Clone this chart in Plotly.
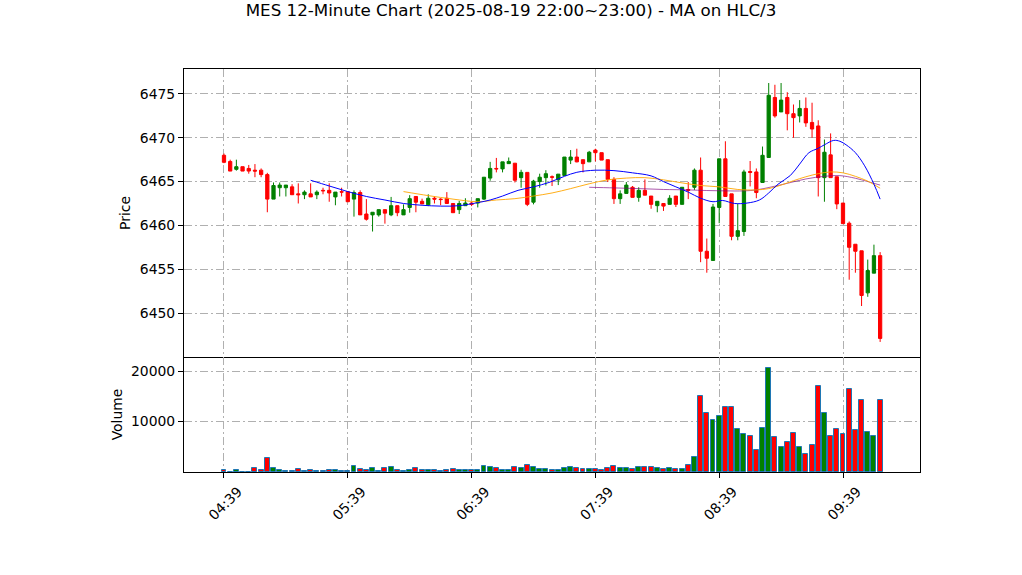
import pandas as pd
import plotly.graph_objects as go

# ---------------- data ----------------
start_time = "2025-08-19 04:39"
bar_minutes = 3

opens = [6468.0, 6467.3, 6466.4, 6466.7, 6466.5, 6466.3, 6466.3, 6465.8, 6463.0, 6464.3,
         6464.3, 6464.4, 6463.6, 6463.5, 6463.6, 6463.5, 6464.0, 6464.0, 6463.25, 6463.85,
         6463.85, 6463.0, 6463.75, 6461.3, 6461.2, 6461.2, 6461.8, 6461.2, 6462.25, 6461.2,
         6462.05, 6463.3, 6462.75, 6462.35, 6463.1, 6463.0, 6463.1, 6462.5, 6461.8, 6462.25,
         6462.55, 6462.55, 6463.0, 6465.4, 6466.5, 6466.45, 6467.05, 6467.1, 6465.45, 6466.05,
         6462.65, 6465.0, 6465.45, 6465.55, 6465.2, 6465.7, 6467.45, 6467.8, 6467.5, 6467.25,
         6468.6, 6468.3, 6467.5, 6465.25, 6463.05, 6463.65, 6464.35, 6463.2, 6464.0, 6463.35,
         6462.25, 6462.5, 6462.4, 6463.35, 6462.4, 6464.1, 6464.35, 6466.3, 6457.05, 6456.0,
         6462.05, 6467.6, 6463.6, 6458.75, 6459.3, 6466.15, 6466.1, 6464.9, 6467.75, 6474.6,
         6472.95, 6474.6, 6472.75, 6472.5, 6473.35, 6471.75, 6471.35, 6465.45, 6468.05, 6465.55,
         6462.55, 6460.25, 6457.85, 6457.1, 6452.3, 6454.55, 6456.55]
highs = [6468.2, 6467.5, 6467.5, 6466.7, 6466.9, 6467.0, 6466.5, 6466.0, 6464.9, 6464.9,
         6464.6, 6464.7, 6464.8, 6464.0, 6464.8, 6464.0, 6464.3, 6464.8, 6463.8, 6464.3,
         6463.85, 6464.0, 6464.0, 6463.0, 6461.5, 6461.8, 6461.8, 6463.25, 6462.25, 6462.4,
         6463.45, 6463.3, 6463.05, 6463.55, 6463.3, 6463.1, 6463.8, 6462.5, 6462.8, 6463.1,
         6462.65, 6463.05, 6465.5, 6467.25, 6467.7, 6467.25, 6467.75, 6467.1, 6466.35, 6466.05,
         6465.2, 6465.9, 6466.3, 6465.7, 6465.85, 6467.8, 6468.6, 6468.75, 6467.5, 6468.5,
         6468.75, 6468.3, 6467.5, 6465.5, 6464.0, 6464.95, 6464.5, 6464.35, 6465.25, 6463.35,
         6462.75, 6462.5, 6463.45, 6463.35, 6464.35, 6464.95, 6466.5, 6467.75, 6458.5, 6462.45,
         6467.6, 6469.6, 6463.6, 6462.5, 6466.35, 6467.35, 6466.5, 6469.0, 6476.25, 6476.05,
         6476.25, 6475.2, 6473.8, 6474.3, 6474.6, 6474.0, 6472.0, 6469.8, 6470.5, 6465.55,
         6462.55, 6460.45, 6457.85, 6457.1, 6456.1, 6457.8, 6456.95]
lows = [6467.1, 6466.2, 6466.25, 6466.2, 6465.9, 6465.5, 6465.5, 6461.5, 6463.0, 6463.3,
        6463.3, 6463.5, 6462.5, 6463.0, 6463.25, 6463.0, 6463.55, 6462.7, 6462.3, 6463.3,
        6462.7, 6461.0, 6461.2, 6460.55, 6459.3, 6461.0, 6460.2, 6461.05, 6461.05, 6461.2,
        6461.45, 6461.5, 6462.45, 6462.2, 6462.5, 6462.3, 6462.5, 6461.45, 6461.3, 6462.25,
        6462.2, 6462.05, 6462.9, 6465.1, 6466.05, 6466.05, 6467.05, 6464.9, 6464.3, 6462.2,
        6462.4, 6464.3, 6464.55, 6464.5, 6464.6, 6465.7, 6467.0, 6467.2, 6466.05, 6467.25,
        6467.3, 6467.45, 6464.95, 6462.45, 6462.45, 6463.65, 6463.2, 6462.7, 6463.45, 6461.9,
        6461.5, 6461.65, 6462.4, 6462.1, 6462.4, 6463.0, 6464.05, 6455.8, 6454.6, 6456.0,
        6460.25, 6463.3, 6458.3, 6458.3, 6458.8, 6464.45, 6463.1, 6464.9, 6467.75, 6472.3,
        6472.95, 6470.85, 6470.0, 6471.75, 6471.25, 6470.0, 6463.3, 6462.7, 6465.45, 6461.85,
        6460.2, 6453.8, 6454.6, 6450.8, 6451.85, 6454.55, 6446.7]
closes = [6467.2, 6466.2, 6466.7, 6466.2, 6466.2, 6466.2, 6465.8, 6463.0, 6464.55, 6464.6,
          6464.6, 6463.5, 6463.5, 6463.8, 6463.25, 6463.8, 6463.95, 6463.7, 6463.8, 6463.8,
          6462.7, 6463.75, 6461.2, 6460.7, 6461.5, 6461.8, 6461.4, 6462.25, 6461.45, 6461.8,
          6463.05, 6462.65, 6462.45, 6463.1, 6463.0, 6462.95, 6462.5, 6461.45, 6462.5, 6462.55,
          6462.4, 6463.05, 6465.5, 6466.5, 6466.45, 6467.25, 6467.3, 6465.15, 6466.05, 6462.4,
          6465.05, 6465.5, 6465.9, 6465.5, 6465.85, 6467.8, 6467.8, 6467.25, 6467.05, 6468.35,
          6468.3, 6467.45, 6465.25, 6463.05, 6463.6, 6464.6, 6463.2, 6464.0, 6463.45, 6462.4,
          6462.75, 6462.2, 6463.1, 6462.4, 6464.35, 6464.0, 6466.3, 6457.05, 6456.25, 6462.1,
          6467.6, 6463.3, 6458.75, 6459.4, 6466.1, 6466.05, 6463.75, 6468.0, 6474.85, 6472.5,
          6474.3, 6472.75, 6472.3, 6473.35, 6471.7, 6471.0, 6465.45, 6468.35, 6465.45, 6462.45,
          6460.2, 6457.5, 6457.05, 6452.0, 6454.85, 6456.55, 6447.1]
volumes = [400, 100, 400, 100, 100, 800, 400, 2750, 800, 400,
           150, 150, 600, 200, 400, 200, 200, 400, 400, 200,
           200, 1200, 600, 400, 800, 250, 800, 1000, 400, 200,
           400, 800, 400, 400, 400, 200, 400, 600, 400, 400,
           400, 400, 1200, 1000, 800, 400, 400, 1000, 800, 1400,
           1000, 600, 600, 400, 400, 800, 1000, 800, 600, 600,
           600, 400, 800, 1200, 800, 800, 600, 1000, 1000, 1000,
           800, 600, 800, 600, 600, 1400, 2950, 15030, 11760, 10390,
           11180, 12880, 12880, 8430, 7450, 7060, 4440, 8630, 20590, 6860,
           4900, 6010, 7650, 4900, 3530, 5290, 17060, 11760, 7060, 8430,
           7450, 16470, 8240, 14250, 7840, 7060, 14250]

# moving-average lines: (bar position, price) samples
ma_fast_pos = [14, 17, 20, 23, 26, 29, 32, 35, 38, 41, 43, 45, 47.5, 50, 52.5, 55, 57, 60,
               63, 66, 69, 71, 73, 75, 77, 79, 80.5, 82.5, 84.5, 86.5, 88, 89.5, 91.5, 93,
               94.5, 96, 97, 98.5, 99.5, 100.5, 102, 103.5, 105, 106]
ma_fast_val = [6465.15, 6464.5, 6463.86, 6463.3, 6462.9, 6462.5, 6462.3, 6462.2, 6462.25,
               6462.6, 6462.9, 6463.35, 6464.0, 6464.4, 6464.9, 6465.6, 6466.06, 6466.3,
               6466.25, 6466.0, 6465.65, 6465.0, 6464.4, 6463.8, 6463.1, 6462.7, 6462.85,
               6462.5, 6462.55, 6462.9, 6463.7, 6464.7, 6465.7, 6467.0, 6468.3, 6468.8,
               6469.2, 6469.7, 6469.6, 6469.2, 6468.3, 6466.8, 6464.7, 6463.0]
ma_mid_pos = [29, 33, 37, 41, 44, 47, 50, 53, 56, 59, 62, 65, 68, 71, 74, 77, 80, 83, 86,
              88, 90, 92, 94, 96, 98, 100, 102, 104, 106]
ma_mid_val = [6463.86, 6463.4, 6463.0, 6462.7, 6462.9, 6463.05, 6463.35, 6463.7, 6464.2,
              6464.75, 6465.2, 6465.4, 6465.45, 6465.2, 6464.85, 6464.55, 6464.4, 6464.1,
              6464.05, 6464.2, 6464.6, 6465.1, 6465.55, 6465.9, 6466.1, 6466.0, 6465.6,
              6465.05, 6464.24]
ma_slow_pos = [59, 63, 67, 71, 75, 78, 81, 84, 86, 88.5, 91, 94, 97, 99.5, 102, 104, 106]
ma_slow_val = [6464.35, 6464.28, 6464.2, 6464.1, 6464.05, 6463.98, 6463.94, 6463.94,
               6464.05, 6464.4, 6464.8, 6465.3, 6465.6, 6465.68, 6465.38, 6465.0, 6464.6]

tick_labels = ["04:39", "05:39", "06:39", "07:39", "08:39", "09:39"]
price_ticks = [6450, 6455, 6460, 6465, 6470, 6475]
volume_ticks = [10000, 20000]

title_text = "MES 12-Minute Chart (2025-08-19 22:00~23:00) - MA on HLC/3"

# ---------------- build figure ----------------
t0 = pd.Timestamp(start_time)
step = pd.Timedelta(minutes=bar_minutes)
times = [t0 + step * k for k in range(len(opens))]


def pos_to_time(p):
    return t0 + pd.Timedelta(minutes=bar_minutes * p)


vol_colors = ["green" if c >= o else "red" for o, c in zip(opens, closes)]
tick_times = [pd.Timestamp(t0.strftime("%Y-%m-%d ") + lab) for lab in tick_labels]

x_left = pos_to_time(-6.46)
x_right = pos_to_time(112.44)

FONT = "DejaVu Sans"
GRID = "#b0b0b0"
DASH = "8px,3px,2px,3px"

fig = go.Figure()

fig.add_trace(go.Candlestick(
    x=times, open=opens, high=highs, low=lows, close=closes,
    increasing=dict(line=dict(color="green", width=1), fillcolor="green"),
    decreasing=dict(line=dict(color="red", width=1), fillcolor="red"),
    whiskerwidth=0, showlegend=False, xaxis="x", yaxis="y",
))

for pos, val, col in [
    (ma_slow_pos, ma_slow_val, "rgba(128,0,128,0.65)"),
    (ma_mid_pos, ma_mid_val, "rgba(255,165,0,0.9)"),
    (ma_fast_pos, ma_fast_val, "rgba(0,0,255,1)"),
]:
    fig.add_trace(go.Scatter(
        x=[pos_to_time(p) for p in pos], y=val, mode="lines",
        line=dict(color=col, width=1, shape="spline", smoothing=1.0),
        showlegend=False, xaxis="x", yaxis="y", hoverinfo="skip",
    ))

fig.add_trace(go.Bar(
    x=times, y=volumes,
    marker=dict(color=vol_colors, line=dict(color="#1f77b4", width=1)),
    width=0.8 * bar_minutes * 60 * 1000,
    showlegend=False, xaxis="x2", yaxis="y2",
))

split = 115 / 403

common_axis = dict(
    showline=True, linecolor="black", linewidth=1,
    showgrid=True, gridcolor=GRID, gridwidth=1, griddash=DASH,
    zeroline=False, tickfont=dict(family=FONT, size=13.9, color="black"),
    tickcolor="black",
)

fig.update_layout(
    width=1022, height=575,
    margin=dict(l=184, r=102, t=69, b=103),
    paper_bgcolor="white", plot_bgcolor="white",
    font=dict(family=FONT, color="black"),
    showlegend=False,
    bargap=0,
    boxgap=0.25,
    title=dict(text=title_text, x=0.5, xanchor="center", y=1 - 10 / 575,
               yanchor="middle", yref="container",
               font=dict(family=FONT, size=16.7, color="black")),
    xaxis=dict(domain=[0, 1], anchor="y", range=[x_left, x_right], mirror=True,
               tickvals=tick_times, ticktext=tick_labels, showticklabels=False,
               ticks="", rangeslider=dict(visible=False), **common_axis),
    xaxis2=dict(domain=[0, 1], anchor="y2", range=[x_left, x_right], matches="x",
                mirror=False,
                tickvals=tick_times, ticktext=tick_labels, tickangle=-45,
                ticklabelshift=14,
                ticks="outside", ticklen=5, **common_axis),
    yaxis=dict(domain=[split, 1], anchor="x", range=[6444.98, 6477.85], mirror=True,
               tickvals=price_ticks, ticktext=[str(v) for v in price_ticks],
               ticks="outside", ticklen=5,
               title=dict(text="Price", standoff=5,
                          font=dict(family=FONT, size=13.9, color="black")),
               **common_axis),
    yaxis2=dict(domain=[0, split], anchor="x2", range=[0, 22800], mirror=True,
                tickvals=volume_ticks, ticktext=[str(v) for v in volume_ticks],
                ticks="outside", ticklen=5,
                title=dict(text="Volume", standoff=5,
                           font=dict(family=FONT, size=13.9, color="black")),
                **common_axis),
)

fig.write_html("out.html", config={"displayModeBar": False},
               post_script="document.body.style.margin='0px';")
